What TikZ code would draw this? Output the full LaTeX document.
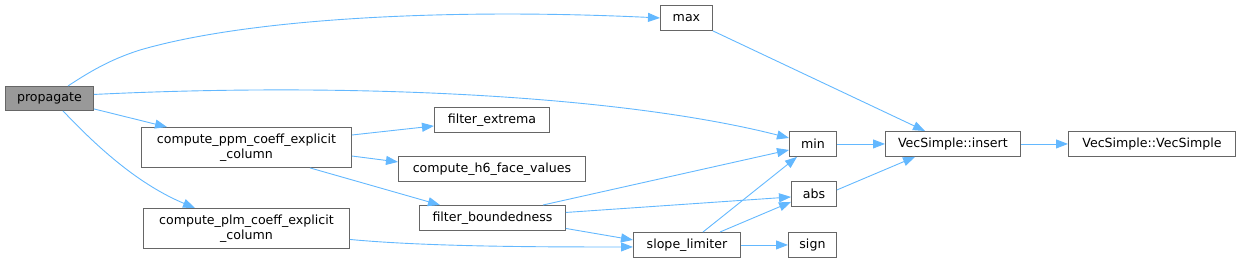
\documentclass[tikz,border=0pt]{standalone}
\usepackage{fontspec}
\setmainfont{DejaVu Sans}
\usetikzlibrary{arrows.meta,calc}
\definecolor{edgecol}{HTML}{63B8FF}
\definecolor{bordcol}{HTML}{666666}
\definecolor{grayfill}{HTML}{999999}
\begin{document}
\begin{tikzpicture}[x=1pt,y=-1pt,
  box/.style={draw=bordcol, fill=white, line width=0.9pt, inner sep=0pt, anchor=north west,
    align=center, font=\fontsize{12.6}{14.5}\selectfont},
  hbox/.style={box, fill=grayfill},
  call/.style={draw=edgecol, line width=0.9pt, -{Triangle[length=12pt,width=9pt]}}]
\useasboundingbox (0,0) rectangle (1240,263);
\node[hbox, minimum width=88, minimum height=24] (prop) at (5,86) {propagate};
\node[box, minimum width=210, minimum height=40] (ppm) at (141,127) {compute\_ppm\_coeff\_explicit\\\_column};
\node[box, minimum width=206, minimum height=40] (plm) at (143,208) {compute\_plm\_coeff\_explicit\\\_column};
\node[box, minimum width=52, minimum height=25] (max) at (660,5) {max};
\node[box, minimum width=115, minimum height=25] (fext) at (434,107) {filter\_extrema};
\node[box, minimum width=187, minimum height=25] (h6) at (398,156) {compute\_h6\_face\_values};
\node[box, minimum width=146, minimum height=25] (fbound) at (419,205) {filter\_boundedness};
\node[box, minimum width=47, minimum height=25] (min) at (789,131) {min};
\node[box, minimum width=45, minimum height=25] (abs) at (791,181) {abs};
\node[box, minimum width=107, minimum height=25] (slope) at (633,232) {slope\_limiter};
\node[box, minimum width=48, minimum height=25] (sign) at (788,232) {sign};
\node[box, minimum width=135, minimum height=25] (insert) at (885,131) {VecSimple::insert};
\node[box, minimum width=167, minimum height=25] (vec) at (1068,131) {VecSimple::VecSimple};

\draw[call] ($(prop.north west)+(63,0)$) .. controls (95,68) and (115,58) .. (140,50)
   .. controls (250,18) and (450,8) .. (max.west);
\draw[call] ($(prop.east)+(0,-4)$) .. controls (350,82) and (620,95) .. ($(min.west)+(0,-6)$);
\draw[call] ($(prop.south east)+(0,-2)$) -- ($(ppm.north west)+(26,0)$);
\draw[call] ($(prop.south west)+(58,0)$) .. controls (100,150) and (140,185) .. ($(plm.north west)+(52,0)$);
\draw[call] ($(ppm.north east)+(0,8)$) -- ($(fext.west)+(0,6)$);
\draw[call] ($(ppm.north east)+(0,29)$) -- ($(h6.west)+(0,-7)$);
\draw[call] ($(ppm.south west)+(169,0)$) -- ($(fbound.north west)+(21,0)$);
\draw[call] ($(plm.east)+(0,11)$) .. controls (430,247) and (550,247) .. ($(slope.west)+(0,2)$);
\draw[call] ($(fbound.north west)+(124,0)$) -- ($(min.west)+(0,6)$);
\draw[call] ($(fbound.east)+(0,-5.5)$) -- ($(abs.west)+(0,3)$);
\draw[call] ($(fbound.east)+(0,10.5)$) -- ($(slope.west)+(0,-5)$);
\draw[call] ($(slope.north west)+(70,0)$) -- ($(min.south west)+(8,0)$);
\draw[call] ($(slope.north west)+(87,0)$) -- ($(abs.west)+(0,8)$);
\draw[call] (slope.east) -- (sign.west);
\draw[call] (max.south east) -- ($(insert.north west)+(40,0)$);
\draw[call] (min.east) -- (insert.west);
\draw[call] ($(abs.east)+(0,-4)$) -- ($(insert.south west)+(30,0)$);
\draw[call] (insert.east) -- (vec.west);
\end{tikzpicture}
\end{document}
